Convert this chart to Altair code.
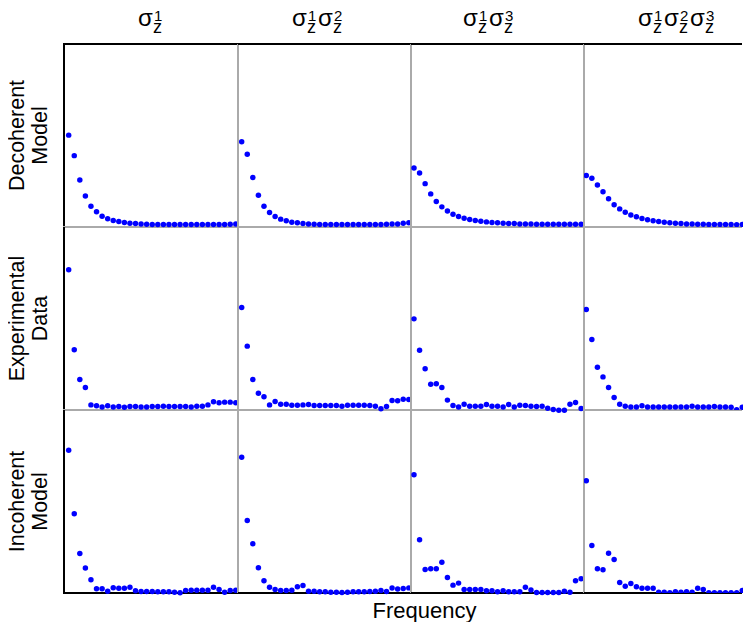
import altair as alt
import pandas as pd

FONT = "Liberation Sans"

# ---------------- data ----------------
row_labels = ["Decoherent\nModel", "Experimental\nData", "Incoherent\nModel"]
col_superscripts = [["1"], ["1", "2"], ["1", "3"], ["1", "2", "3"]]
x_title = "Frequency"

decoherent_model = [
    [50.2, 39.0, 25.7, 17.0, 11.3, 8.3, 5.9, 4.5, 3.5, 3.0, 2.5, 2.1, 1.9, 1.7, 1.5, 1.4,
     1.4, 1.4, 1.4, 1.4, 1.4, 1.4, 1.4, 1.4, 1.4, 1.4, 1.4, 1.4, 1.4, 1.5, 1.7],
    [46.6, 39.7, 27.1, 17.3, 11.3, 7.9, 5.7, 4.3, 3.4, 2.6, 2.3, 1.9, 1.7, 1.5, 1.4, 1.4,
     1.4, 1.4, 1.4, 1.4, 1.4, 1.4, 1.4, 1.4, 1.4, 1.4, 1.5, 1.6, 1.7, 2.0, 2.3],
    [32.3, 29.5, 23.7, 18.1, 13.9, 11.0, 8.8, 7.0, 5.7, 4.8, 4.1, 3.5, 3.2, 2.8, 2.5, 2.3,
     2.1, 1.9, 1.9, 1.7, 1.7, 1.6, 1.5, 1.5, 1.5, 1.5, 1.5, 1.5, 1.5, 1.5, 1.5],
    [28.1, 26.6, 23.0, 19.3, 15.4, 12.1, 9.9, 8.1, 6.6, 5.6, 4.6, 3.9, 3.4, 3.0, 2.6, 2.3,
     2.1, 1.9, 1.7, 1.7, 1.5, 1.5, 1.4, 1.4, 1.4, 1.4, 1.4, 1.3, 1.4, 1.4, 1.4],
]
experimental_data = [
    [76.6, 32.9, 16.7, 12.3, 2.8, 2.3, 1.7, 2.3, 1.7, 1.9, 1.5, 1.9, 1.9, 1.7, 1.7, 1.9,
     1.9, 2.1, 1.9, 1.9, 1.9, 1.9, 1.7, 2.1, 2.1, 2.8, 4.5, 3.9, 4.3, 4.3, 3.9],
    [56.0, 34.9, 16.7, 9.2, 7.2, 2.8, 4.6, 3.2, 3.2, 2.6, 2.6, 2.8, 3.0, 2.5, 2.5, 2.5,
     2.5, 2.5, 2.1, 2.6, 2.6, 2.6, 2.6, 2.5, 2.1, 0.7, 1.9, 5.2, 5.0, 5.9, 5.7],
    [49.8, 32.7, 22.5, 14.1, 14.3, 12.3, 5.4, 2.5, 1.7, 3.2, 2.1, 2.1, 2.1, 3.0, 2.1, 2.1,
     1.7, 3.0, 1.7, 2.6, 2.5, 2.1, 1.9, 2.1, 1.0, 0.3, -0.1, -0.1, 3.2, 4.1, 0.8],
    [54.9, 38.5, 23.4, 18.1, 12.3, 6.8, 3.2, 2.1, 1.7, 1.7, 2.3, 1.7, 1.7, 1.7, 1.7, 1.7,
     1.7, 1.7, 1.7, 2.1, 1.7, 1.7, 1.7, 1.9, 1.7, 1.7, 1.5, 0.1, 1.5, 2.8, 3.5],
]
incoherent_model = [
    [78.0, 43.3, 21.6, 13.6, 7.3, 2.3, 2.3, 1.0, 2.9, 2.6, 2.6, 3.2, 1.2, 0.8, 0.8, 0.8,
     0.7, 0.7, 0.7, 0.4, 0.1, 1.4, 1.5, 1.5, 1.5, 1.5, 3.2, 1.9, 0.4, 1.4, 1.5],
    [74.2, 39.6, 26.9, 13.8, 6.7, 3.2, 1.9, 1.4, 1.4, 1.5, 3.4, 4.1, 1.0, 1.0, 0.7, 0.7,
     0.4, 0.4, 0.3, 0.4, 0.7, 0.7, 0.7, 0.8, 1.0, 1.4, 0.8, 2.7, 2.2, 2.5, 2.8],
    [64.6, 29.1, 12.8, 13.2, 13.2, 16.8, 8.5, 4.3, 5.4, 1.9, 1.9, 1.9, 1.9, 1.2, 1.2, 0.7,
     1.2, 0.7, 0.7, 0.7, 3.2, 1.7, 0.3, 0.3, 0.3, 0.3, 0.3, 1.0, 0.4, 6.7, 7.8],
    [61.3, 26.0, 13.2, 12.7, 21.7, 18.3, 5.7, 3.7, 5.2, 3.4, 2.6, 2.6, 2.6, 0.4, 0.4, 0.1,
     0.7, 0.4, 0.7, 0.4, 2.6, 1.9, 0.1, 0.1, 0.1, 0.1, 0.1, 0.1, 1.4, 6.4, 7.0],
]
rows_data = [decoherent_model, experimental_data, incoherent_model]

# ---------------- layout ----------------
LABEL_W = 55
HEADER_H = 36
ROW_H = 183
col_widths = [175, 173, 173, 159]
px_per_unit = 5.57
x_starts = [-0.02, 0.336, 0.46, 0.59]
header_starts = [75, 54, 52, 54]
UNIT_W = 26
GRAY = "#aaaaaa"
BLUE = "#0000ff"

one = pd.DataFrame({"k": [0]})


def panel(r, c):
    vals = rows_data[r][c]
    df = pd.DataFrame({"i": list(range(1, len(vals) + 1)), "v": vals})
    w = col_widths[c]
    h = ROW_H
    d0 = x_starts[c]
    d1 = d0 + w / px_per_unit
    mark_kw = dict(size=30, color=BLUE, opacity=1)
    if c == 3:
        mark_kw["clip"] = True
    pts = alt.Chart(df).mark_circle(**mark_kw).encode(
        x=alt.X("i:Q", scale=alt.Scale(domain=[d0, d1], nice=False, zero=False), axis=None),
        y=alt.Y("v:Q", scale=alt.Scale(domain=[0, 100], nice=False), axis=None),
    )
    x_end = w - 1 if c == 3 else w
    left_x = 1 if c == 0 else 0
    left = alt.Chart(one).mark_rule(color="black" if c == 0 else GRAY, strokeWidth=2).encode(
        x=alt.value(left_x), y=alt.value(0), y2=alt.value(h))
    bottom = alt.Chart(one).mark_rule(color="black" if r == 2 else GRAY, strokeWidth=2).encode(
        x=alt.value(0), x2=alt.value(x_end), y=alt.value(h))
    layers = [left, bottom]
    if r == 0:
        top = alt.Chart(one).mark_rule(color="black", strokeWidth=2).encode(
            x=alt.value(0), x2=alt.value(x_end), y=alt.value(0))
        layers.append(top)
    layers.append(pts)
    return alt.layer(*layers).properties(width=w, height=h)


def header(c):
    w = col_widths[c]
    recs = []
    for j, d in enumerate(col_superscripts[c]):
        base = header_starts[c] + UNIT_W * j
        recs.append({"t": "σ", "role": "base", "pos": base})
        recs.append({"t": "z", "role": "sub", "pos": base + 15})
        recs.append({"t": d, "role": "sup", "pos": base + 16})
    df = pd.DataFrame(recs)
    layers = []
    for role, size, yb in [("base", 24, 18), ("sub", 18, 24.7), ("sup", 15, 12.7)]:
        layers.append(
            alt.Chart(df).transform_filter(alt.datum.role == role)
            .mark_text(align="left", baseline="alphabetic", fontSize=size, font=FONT,
                       color="black", clip=True)
            .encode(x=alt.X("pos:Q", scale=None, axis=None), y=alt.value(yb), text="t:N")
        )
    return alt.layer(*layers).properties(width=w, height=HEADER_H)


def row_label(r):
    df = pd.DataFrame({"label": [row_labels[r]]})
    return alt.Chart(df).mark_text(
        angle=270, align="center", baseline="alphabetic", fontSize=21.5, font=FONT,
        lineBreak="\n", lineHeight=23, color="black", clip=True,
    ).encode(x=alt.value(16), y=alt.value(ROW_H / 2), text="label:N").properties(
        width=LABEL_W, height=ROW_H)


corner = alt.Chart(one).mark_text(text="", clip=True).encode(x=alt.value(0)).properties(
    width=LABEL_W, height=HEADER_H)

items = [corner] + [header(c) for c in range(4)]
for r in range(3):
    items.append(row_label(r))
    for c in range(4):
        items.append(panel(r, c))

chart = alt.concat(
    *items, columns=5, spacing=0, align="each", bounds="flush",
    title=alt.TitleParams(
        text=x_title, orient="bottom", anchor="middle", fontSize=22, fontWeight="normal",
        font=FONT, color="black", baseline="alphabetic", offset=22, dx=49),
).properties(padding=0, background="white").configure_view(stroke=None)

chart.save("out.html", embed_options={"renderer": "svg", "actions": False})
